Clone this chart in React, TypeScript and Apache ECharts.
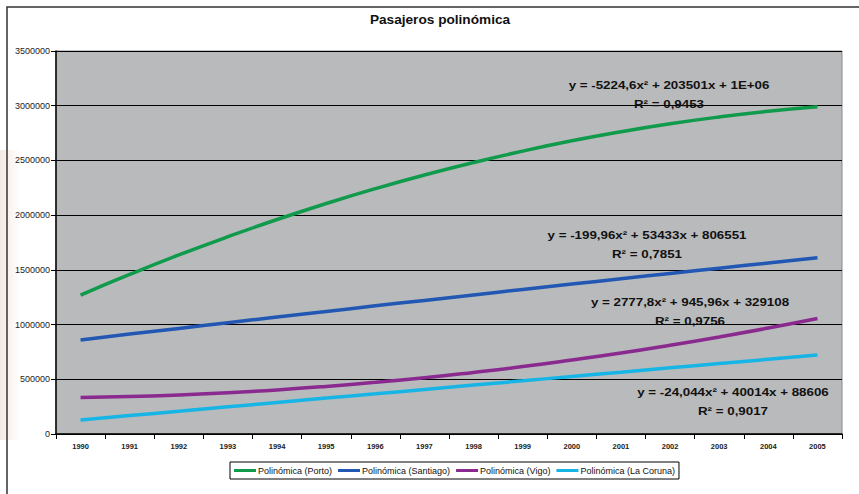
import React, { useEffect, useRef } from "react";
import * as echarts from "echarts";

const years = ["1990", "1991", "1992", "1993", "1994", "1995", "1996", "1997", "1998", "1999", "2000", "2001", "2002", "2003", "2004", "2005"];

const porto = [1270000, 1458000, 1636000, 1803000, 1960000, 2106000, 2242000, 2367000, 2481000, 2585000, 2679000, 2762000, 2835000, 2897000, 2949000, 2990000];
const santiago = [860000, 913000, 965000, 1017000, 1069000, 1120000, 1171000, 1221000, 1271000, 1321000, 1370000, 1419000, 1467000, 1515000, 1563000, 1610000];
const vigo = [333000, 342000, 357000, 377000, 403000, 435000, 472000, 514000, 563000, 616000, 676000, 740000, 811000, 887000, 968000, 1055000];
const coruna = [128000, 168000, 208000, 248000, 288000, 328000, 367000, 407000, 447000, 486000, 526000, 565000, 605000, 644000, 683000, 722000];

const seriesNames = ["Polinómica (Porto)", "Polinómica (Santiago)", "Polinómica (Vigo)", "Polinómica (La Coruna)"];
const seriesColors = ["#109a4b", "#2257b3", "#8a2a8f", "#16b5e6"];
const equations = [
  "y = -5224,6x² + 203501x + 1E+06",
  "y = -199,96x² + 53433x + 806551",
  "y = 2777,8x² + 945,96x + 329108",
  "y = -24,044x² + 40014x + 88606",
];
const rSquared = ["R² = 0,9453", "R² = 0,7851", "R² = 0,9756", "R² = 0,9017"];

const eqPos = [
  [669, 85],
  [647, 235],
  [690, 302],
  [733, 392],
];

const FONT = "'Liberation Sans', Arial, sans-serif";

export default function App() {
  const ref = useRef<HTMLDivElement>(null);
  useEffect(() => {
    if (!ref.current) return;
    const chart = echarts.init(ref.current, undefined, { renderer: "svg" });
    const data = [porto, santiago, vigo, coruna];
    const eqGraphics: any[] = [];
    equations.forEach((eq, i) => {
      eqGraphics.push({
        type: "text",
        z: 100,
        x: eqPos[i][0],
        y: eqPos[i][1],
        scaleX: 1.16,
        style: {
          x: 0,
          y: 0,
          text: eq,
          align: "center",
          verticalAlign: "middle",
          fill: "#111",
          font: `bold 11.5px ${FONT}`,
        },
      });
      eqGraphics.push({
        type: "text",
        z: 100,
        x: eqPos[i][0],
        y: eqPos[i][1] + 19,
        scaleX: 1.16,
        style: {
          x: 0,
          y: 0,
          text: rSquared[i],
          align: "center",
          verticalAlign: "middle",
          fill: "#111",
          font: `bold 11.5px ${FONT}`,
        },
      });
    });
    chart.setOption({
      animation: false,
      backgroundColor: "#ffffff",
      graphic: [
        {
          type: "rect",
          z: -10,
          shape: { x: 0, y: 150, width: 20, height: 290 },
          style: {
            fill: new echarts.graphic.LinearGradient(0, 0, 1, 0, [
              { offset: 0, color: "rgba(240,222,214,0.7)" },
              { offset: 1, color: "rgba(240,222,214,0)" },
            ]),
          },
          silent: true,
        },
        {
          type: "rect",
          z: -5,
          shape: { x: 7, y: 7, width: 880, height: 520 },
          style: { fill: "none", stroke: "#333", lineWidth: 1.5 },
          silent: true,
        },
        {
          type: "text",
          z: 100,
          x: 440,
          y: 20,
          scaleX: 1.05,
          style: {
            x: 0,
            y: 0,
            text: "Pasajeros polinómica",
            align: "center",
            verticalAlign: "middle",
            fill: "#111",
            font: `bold 13px ${FONT}`,
          },
        },
        ...eqGraphics,
      ],
      legend: {
        left: 230,
        top: 462,
        orient: "horizontal",
        data: seriesNames,
        icon: "rect",
        itemWidth: 22,
        itemHeight: 3,
        itemGap: 6,
        padding: [4, 4],
        borderColor: "#000",
        borderWidth: 1,
        backgroundColor: "#fff",
        textStyle: {
          fontFamily: FONT,
          fontSize: 9,
          color: "#111",
          padding: [0, 0, 0, -3],
        },
      },
      grid: {
        left: 56,
        right: 17,
        top: 51,
        bottom: 60,
        show: true,
        backgroundColor: "#b8babc",
        borderColor: "#8a8a8a",
        borderWidth: 1,
      },
      xAxis: {
        type: "category",
        data: years,
        boundaryGap: true,
        axisLine: { show: true, lineStyle: { color: "#000", width: 1.5 } },
        axisTick: { show: true, inside: false, length: 5, alignWithLabel: false, lineStyle: { color: "#000" } },
        axisLabel: {
          margin: 8,
          fontFamily: FONT,
          fontSize: 7.5,
          fontWeight: "bold",
          color: "#222",
          interval: 0,
        },
        splitLine: { show: false },
      },
      yAxis: {
        type: "value",
        min: 0,
        max: 3500000,
        interval: 500000,
        axisLine: { show: true, lineStyle: { color: "#000", width: 1.5 } },
        axisTick: { show: true, inside: false, length: 5, lineStyle: { color: "#000" } },
        axisLabel: {
          margin: 6,
          fontFamily: FONT,
          fontSize: 9,
          color: "#222",
          formatter: (v: number) => String(v),
        },
        splitLine: { show: true, lineStyle: { color: "#000", width: 1 } },
      },
      series: data.map((d, i) => ({
        name: seriesNames[i],
        type: "line",
        data: d,
        smooth: true,
        showSymbol: false,
        symbol: "none",
        color: seriesColors[i],
        lineStyle: { color: seriesColors[i], width: 3.5 },
        z: 3,
      })),
    });
    return () => chart.dispose();
  }, []);
  return (
    <div
      ref={ref}
      style={{ position: "fixed", left: 0, top: 0, width: 859, height: 494 }}
    />
  );
}
